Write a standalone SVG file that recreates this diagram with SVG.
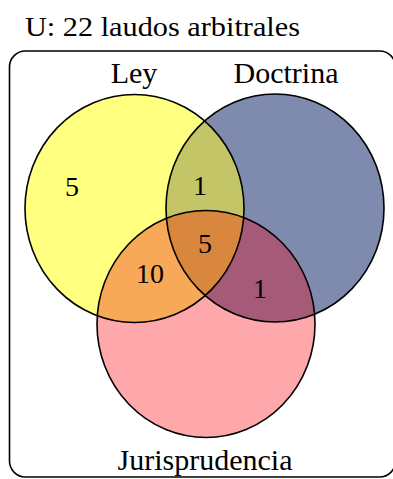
<svg xmlns="http://www.w3.org/2000/svg" width="393" height="479" viewBox="0 0 393 479">
  <style>
    .edge { fill: none; stroke: #000; stroke-width: 1.6; }
  </style>
  <defs>
    <!-- set shapes, reused for fills, clips and outlines -->
    <ellipse id="setLey" cx="134.5" cy="208.5" rx="109.5" ry="114"/>
    <ellipse id="setDoc" cx="275" cy="208" rx="109" ry="114"/>
    <ellipse id="setJur" cx="206" cy="324" rx="109" ry="113.5"/>
    <clipPath id="clipLey"><use href="#setLey"/></clipPath>
    <clipPath id="clipDoc"><use href="#setDoc"/></clipPath>
  </defs>

  <!-- universe -->
  <text x="25" y="36" font-family="Liberation Serif" font-size="28" textLength="275" lengthAdjust="spacingAndGlyphs">U: 22 laudos arbitrales</text>
  <rect x="9.5" y="51" width="386" height="426" rx="16" ry="16" fill="none" stroke="#000" stroke-width="1.6"/>

  <!-- region fills -->
  <g id="fills">
    <use href="#setLey" fill="#FFFF80"/>
    <use href="#setDoc" fill="#7F8BAE"/>
    <use href="#setJur" fill="#FFA8AC"/>
    <g clip-path="url(#clipLey)"><use href="#setDoc" fill="#C3C566"/></g>
    <g clip-path="url(#clipLey)"><use href="#setJur" fill="#F7A957"/></g>
    <g clip-path="url(#clipDoc)"><use href="#setJur" fill="#A55A78"/></g>
    <g clip-path="url(#clipLey)"><g clip-path="url(#clipDoc)"><use href="#setJur" fill="#D9863E"/></g></g>
  </g>

  <!-- set outlines and names -->
  <g id="ley"><use href="#setLey" class="edge"/><text x="134" y="83" font-family="Liberation Serif" font-size="30" text-anchor="middle">Ley</text></g>
  <g id="doctrina"><use href="#setDoc" class="edge"/><text x="286" y="83" font-family="Liberation Serif" font-size="30" text-anchor="middle">Doctrina</text></g>
  <g id="jurisprudencia"><use href="#setJur" class="edge"/><text x="205" y="470" font-family="Liberation Serif" font-size="30" text-anchor="middle">Jurisprudencia</text></g>

  <!-- region counts -->
  <g id="counts" font-family="Liberation Serif" font-size="28" text-anchor="middle">
    <text x="72" y="196">5</text>
    <text x="200" y="195">1</text>
    <text x="205" y="253">5</text>
    <text x="150" y="283">10</text>
    <text x="260" y="298">1</text>
  </g>
</svg>
